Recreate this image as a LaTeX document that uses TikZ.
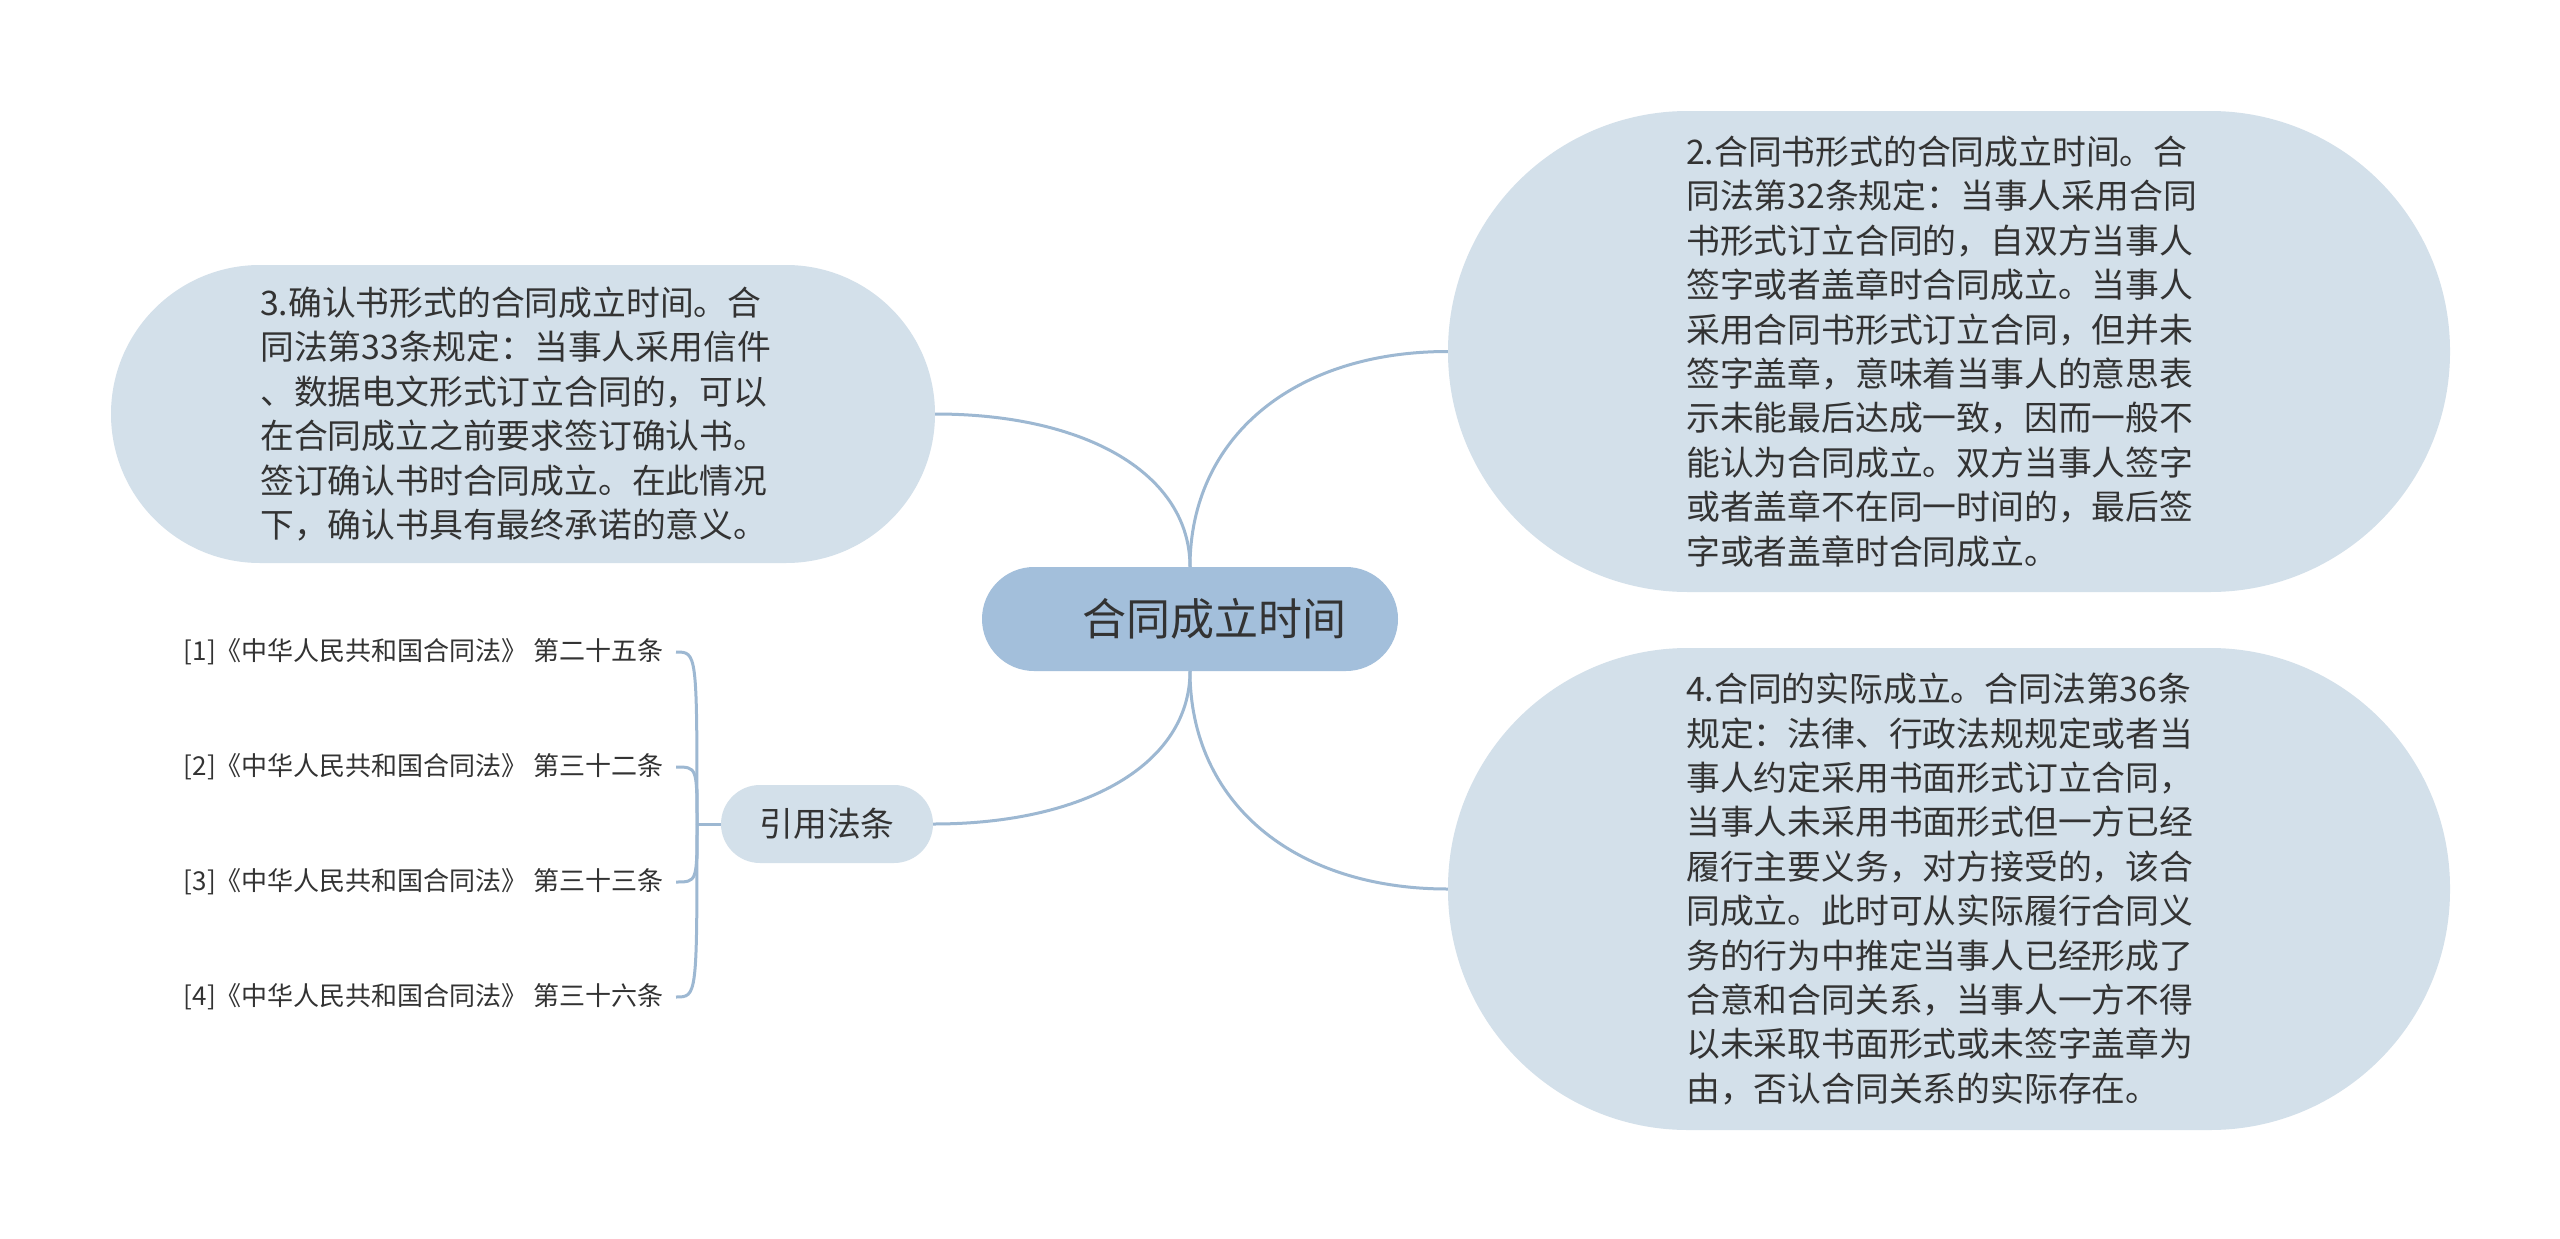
\documentclass[tikz,border=0pt]{standalone}
\usepackage{fontspec}
\setmainfont{Noto Sans CJK SC}
\definecolor{linec}{HTML}{9DB8D2}
\definecolor{childc}{HTML}{D3E0EA}
\definecolor{rootc}{HTML}{A3BFDB}
\definecolor{txt}{HTML}{333333}
\newcommand\mmbody{\fontsize{33.8}{44.4}\selectfont}
\newcommand\mmref{\fontsize{26}{30}\selectfont}
\begin{document}
\begin{tikzpicture}[x=1pt,y=-1pt,
  conn/.style={draw=linec, line width=3pt},
  bigbox/.style={fill=childc, inner sep=0pt},
  bigtext/.style={anchor=west, inner sep=0pt, align=left, text=txt, font=\mmbody},
  refitem/.style={anchor=east, inner xsep=12pt, inner ysep=0pt, text=txt, font=\mmref}]
\useasboundingbox (0,0) rectangle (2560,1239);
\fill[white] (0,0) rectangle (2560,1239);

% root
\node[fill=rootc, rounded corners=52pt, minimum width=416pt, minimum height=104pt,
      inner sep=0pt, text=txt, font=\fontsize{44}{50}\selectfont] (root) at (1190,619)
      {\hspace*{48pt}合同成立时间};

% node 2
\node[bigbox, rounded corners=240pt, minimum width=1002pt, minimum height=481pt] (n2) at (1949,351.5) {};
\node[bigtext] (t2) at (1686,351.5)
{2.合同书形式的合同成立时间。合\\
同法第32条规定：当事人采用合同\\
书形式订立合同的，自双方当事人\\
签字或者盖章时合同成立。当事人\\
采用合同书形式订立合同，但并未\\
签字盖章，意味着当事人的意思表\\
示未能最后达成一致，因而一般不\\
能认为合同成立。双方当事人签字\\
或者盖章不在同一时间的，最后签\\
字或者盖章时合同成立。};

% node 4
\node[bigbox, rounded corners=240pt, minimum width=1002pt, minimum height=482pt] (n4) at (1949,889) {};
\node[bigtext] (t4) at (1686,889)
{4.合同的实际成立。合同法第36条\\
规定：法律、行政法规规定或者当\\
事人约定采用书面形式订立合同，\\
当事人未采用书面形式但一方已经\\
履行主要义务，对方接受的，该合\\
同成立。此时可从实际履行合同义\\
务的行为中推定当事人已经形成了\\
合意和合同关系，当事人一方不得\\
以未采取书面形式或未签字盖章为\\
由，否认合同关系的实际存在。};

% node 3
\node[bigbox, rounded corners=149pt, minimum width=824pt, minimum height=298pt] (n3) at (523,414) {};
\node[bigtext] (t3) at (260,414)
{3.确认书形式的合同成立时间。合\\
同法第33条规定：当事人采用信件\\
、数据电文形式订立合同的，可以\\
在合同成立之前要求签订确认书。\\
签订确认书时合同成立。在此情况\\
下，确认书具有最终承诺的意义。};

% citations
\node[fill=childc, rounded corners=39pt, minimum width=212pt, minimum height=78pt,
      inner sep=0pt, text=txt, font=\mmbody] (ref) at (827,824) {引用法条};

\node[refitem] (r1) at (676,652) {[1]《中华人民共和国合同法》 第二十五条};
\node[refitem] (r2) at (676,767) {[2]《中华人民共和国合同法》 第三十二条};
\node[refitem] (r3) at (676,882) {[3]《中华人民共和国合同法》 第三十三条};
\node[refitem] (r4) at (676,997) {[4]《中华人民共和国合同法》 第三十六条};

% connectors from root
\draw[conn] (root.north) .. controls (1190,438) and (1293,351.5) .. (n2.west);
\draw[conn] (root.north) .. controls (1190,475) and (1088,414) .. (n3.east);
\draw[conn] (root.south) .. controls (1190,802) and (1293,889) .. (n4.west);
\draw[conn] (root.south) .. controls (1190,763) and (1087,824) .. (ref.east);

% bracket
\coordinate (j) at (697,824);
\draw[conn] (ref.west) -- (j);
\draw[conn] (j) .. controls (697,652) .. (r1.east);
\draw[conn] (j) .. controls (697,767) .. (r2.east);
\draw[conn] (j) .. controls (697,882) .. (r3.east);
\draw[conn] (j) .. controls (697,997) .. (r4.east);
\end{tikzpicture}
\end{document}
